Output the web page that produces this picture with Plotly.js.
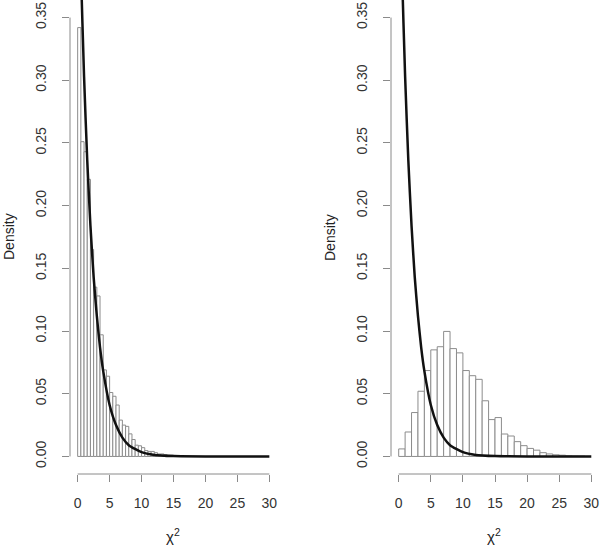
<!DOCTYPE html>
<html>
<head>
<meta charset="utf-8">
<script src="https://cdn.plot.ly/plotly-3.0.1.min.js"></script>
<style>
  body { margin: 0; background: #fff; }
  #chart { width: 600px; height: 545px; }
</style>
</head>
<body>
<div id="chart"></div>
<script>
// histogram densities
var leftBinWidth = 0.5;
var leftDensity = [0.342, 0.251, 0.243, 0.221, 0.165, 0.135, 0.128, 0.097,
                   0.069, 0.064, 0.051, 0.048, 0.041, 0.029, 0.025, 0.024,
                   0.018, 0.0135, 0.009, 0.0085, 0.007, 0.0047, 0.004, 0.004,
                   0.003, 0.002, 0.002, 0.0015, 0.001, 0.001, 0.0005, 0.0005];

var rightBinWidth = 1;
var rightDensity = [0.006, 0.0195, 0.035, 0.052, 0.0685, 0.085, 0.0875, 0.0997,
                    0.086, 0.0826, 0.0685, 0.0644, 0.0615, 0.0444, 0.0294, 0.031,
                    0.0179, 0.0163, 0.0118, 0.0086, 0.0064, 0.005, 0.003, 0.002,
                    0.0013, 0.001, 0.0005, 0.0003, 0.0002];

// reference density curve
var curveX = [0, 0.25, 0.5, 1, 1.5, 2, 2.5, 3, 3.5, 4, 5, 6, 7, 8, 10, 12, 15, 20, 30];
var curveY = [0.5, 0.441, 0.389, 0.303, 0.236, 0.184, 0.143, 0.112, 0.087, 0.068,
              0.041, 0.025, 0.015, 0.009, 0.0034, 0.0012, 0.0003, 0.00002, 0];

var xTicks = [0, 5, 10, 15, 20, 25, 30];
var yTicks = [0, 0.05, 0.10, 0.15, 0.20, 0.25, 0.30, 0.35];

var barLine = '#8c8c8c';
var axisGrey = '#8a8a8a';
var tickFont = { family: 'Liberation Sans, Arial, sans-serif', size: 14, color: '#333' };

function centers(vals, w) {
  return vals.map(function (v, i) { return i * w + w / 2; });
}

function histTrace(vals, w, xa, ya) {
  return {
    type: 'bar',
    x: centers(vals, w),
    y: vals,
    width: vals.map(function () { return w; }),
    marker: { color: '#fff', line: { color: barLine, width: 1 } },
    xaxis: xa, yaxis: ya,
    showlegend: false, hoverinfo: 'x+y'
  };
}

function curveTrace(xa, ya) {
  return {
    type: 'scatter', mode: 'lines',
    x: curveX, y: curveY,
    line: { color: '#111', width: 2.5, shape: 'spline', smoothing: 0.6 },
    xaxis: xa, yaxis: ya,
    showlegend: false, hoverinfo: 'skip'
  };
}

var data = [
  histTrace(leftDensity, leftBinWidth, 'x', 'y'),
  curveTrace('x', 'y'),
  histTrace(rightDensity, rightBinWidth, 'x2', 'y2'),
  curveTrace('x2', 'y2')
];

function xAxis(domain, anchor) {
  return {
    domain: domain, anchor: anchor,
    range: [-1.2, 31.2],
    tickvals: xTicks, ticktext: xTicks.map(String),
    ticks: 'outside', ticklen: 7, tickcolor: axisGrey, tickwidth: 1,
    tickfont: tickFont, ticklabelstandoff: 9,
    showline: false, showgrid: false, zeroline: false, fixedrange: true
  };
}

function yAxis(anchor) {
  return {
    domain: [0, 1], anchor: anchor,
    range: [-0.014, 0.364],
    tickvals: yTicks, ticktext: yTicks.map(function (v) { return v.toFixed(2); }),
    tickangle: -90,
    ticks: 'outside', ticklen: 7, tickcolor: axisGrey, tickwidth: 1,
    tickfont: tickFont, ticklabelstandoff: 10,
    showline: false, showgrid: false, zeroline: false, fixedrange: true
  };
}

var leftDom = [70 / 600, 277 / 600];
var rightDom = [391 / 600, 599 / 600];

// R-style detached axis lines: only span the tick range
function axisLines(xr, yr) {
  return [
    { type: 'line', xref: xr, yref: yr + ' domain', x0: 0, x1: 30, y0: 0, y1: 0,
      line: { color: axisGrey, width: 1 } },
    { type: 'line', xref: xr + ' domain', yref: yr, x0: 0, x1: 0, y0: 0, y1: 0.35,
      line: { color: axisGrey, width: 1 } }
  ];
}

var titleFont = { family: 'Liberation Sans, Arial, sans-serif', size: 14, color: '#222' };

function titles(dom) {
  var mid = (dom[0] + dom[1]) / 2;
  return [
    { text: 'Density', textangle: -90, font: titleFont, showarrow: false,
      xref: 'paper', yref: 'paper', x: dom[0] - 61 / 600, y: 0.5,
      xanchor: 'center', yanchor: 'middle' },
    { text: '\u03c7<sup>2</sup>', font: { family: titleFont.family, size: 15, color: '#222' },
      showarrow: false,
      xref: 'paper', yref: 'paper', x: mid - 1 / 600, y: -62 / 474.5,
      xanchor: 'center', yanchor: 'middle' }
  ];
}

var layout = {
  width: 600, height: 545,
  margin: { l: 0, r: 0, t: 0, b: 70.5 },
  paper_bgcolor: '#fff', plot_bgcolor: '#fff',
  bargap: 0,
  xaxis: xAxis(leftDom, 'y'),
  yaxis: yAxis('x'),
  xaxis2: xAxis(rightDom, 'y2'),
  yaxis2: yAxis('x2'),
  shapes: axisLines('x', 'y').concat(axisLines('x2', 'y2')),
  annotations: titles(leftDom).concat(titles(rightDom))
};

Plotly.newPlot('chart', data, layout, { displayModeBar: false, staticPlot: true });
</script>
</body>
</html>
